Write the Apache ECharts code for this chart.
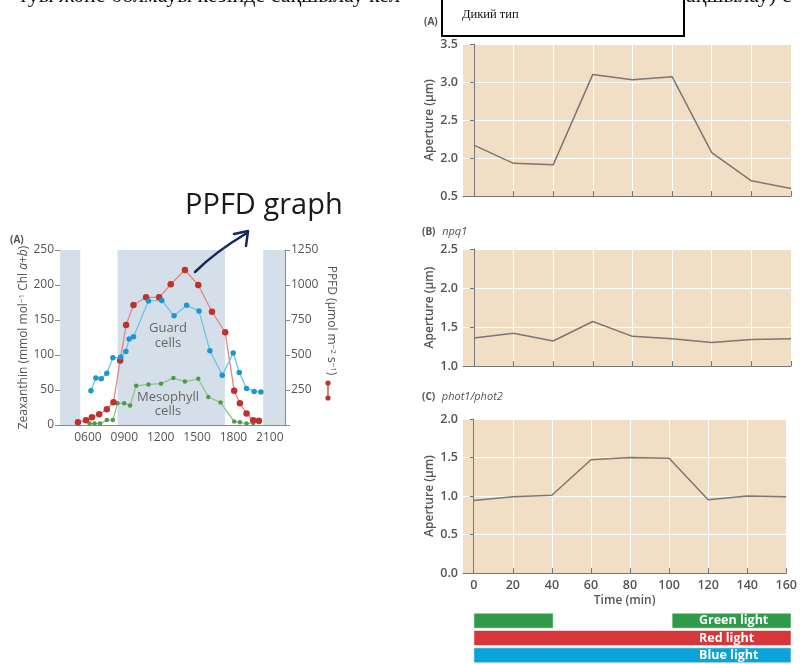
<!DOCTYPE html>
<html>
<head>
<meta charset="utf-8">
<script src="https://cdn.jsdelivr.net/npm/echarts@6/dist/echarts.min.js"></script>
<style>
html, body { margin: 0; padding: 0; background: #fff; }
#chart { width: 800px; height: 664px; }
</style>
</head>
<body>
<div id="chart"></div>
<script>
// left chart: hour of day vs zeaxanthin / PPFD
const HOUR_TICKS = [6, 9, 12, 15, 18, 21];
const RED_T = [5.18, 5.84, 6.33, 6.93, 7.56, 8.11, 8.66, 9.15, 9.76, 10.8, 11.87, 12.83, 14.0, 15.1, 16.23, 17.32, 18.06, 18.53, 19.08, 19.63, 20.1];
const RED_PPFD = [20, 34, 55, 76, 112, 162, 460, 714, 857, 912, 912, 1005, 1107, 1000, 809, 662, 245, 155, 83, 34, 30];
const BLUE_T = [6.25, 6.66, 7.1, 7.56, 8.06, 8.71, 9.13, 9.4, 9.76, 10.99, 12.09, 13.1, 14.14, 15.16, 16.06, 17.08, 17.98, 18.48, 19.08, 19.71, 20.26];
const BLUE_Z = [49, 67, 66, 74, 96, 97, 105, 123, 126, 177, 178, 156, 171, 163, 106, 71, 103, 75, 52, 48, 47];
const GREEN_T = [6.14, 6.55, 7.0, 7.56, 8.06, 8.44, 8.99, 9.48, 9.98, 10.99, 12.03, 13.05, 14.0, 15.1, 15.93, 16.94, 18.06, 18.53, 19.08, 19.63, 20.1];
const GREEN_Z = [2, 2, 2, 7, 7, 31, 31, 28, 56, 58, 59, 67, 62, 66, 40, 32, 5, 4, 2, 3, 4];
const SHADE = [[3.7, 5.37], [8.44, 17.3], [20.45, 22.25]];

// right panels: aperture vs time
const TIME = [0, 20, 40, 60, 80, 100, 120, 140, 160];
const WILD = [2.17, 1.93, 1.91, 3.10, 3.03, 3.07, 2.07, 1.70, 1.60];
const NPQ1 = [1.36, 1.42, 1.32, 1.57, 1.38, 1.35, 1.30, 1.34, 1.35];
const PHOT = [0.94, 0.99, 1.01, 1.47, 1.50, 1.49, 0.95, 1.00, 0.99];

// light treatment bars: [row, start, end]
const LIGHT_ROWS = ['Green light', 'Red light', 'Blue light'];
const LIGHT_SPANS = [[0, 0, 40], [0, 100, 160], [1, 0, 160], [2, 0, 160]];
const LIGHT_COLORS = ['#2f9a48', '#d6373b', '#0ba3d8'];

const GRAY = '#555';
const TAN = '#f1dfc5';
const pairs = (xs, ys) => xs.map((x, i) => [x, ys[i]]);

const chart = echarts.init(document.getElementById('chart'), null, { renderer: 'canvas' });

function panelX(grid, showLabels) {
  return {
    type: 'value', gridIndex: grid, min: -5.5, max: 160,
    axisLine: { lineStyle: { color: '#777', width: 1 } },
    axisTick: { inside: true, length: 5, customValues: TIME, lineStyle: { color: '#777' } },
    axisLabel: { show: showLabels, customValues: TIME, color: GRAY, fontSize: 12.5, fontWeight: 600, margin: 6 },
    splitLine: { show: true, lineStyle: { color: '#fff', width: 1 } },
    name: showLabels ? 'Time (min)' : '', nameLocation: 'middle', nameGap: 22,
    nameTextStyle: { color: GRAY, fontSize: 12, fontWeight: 600 },
  };
}
function panelY(grid, min, max, fmt) {
  return {
    type: 'value', gridIndex: grid, min, max, interval: 0.5,
    axisLine: { show: true, lineStyle: { color: '#777' } },
    axisTick: { show: true, length: 4, lineStyle: { color: '#777' } },
    axisLabel: { color: GRAY, fontSize: 12.5, fontWeight: 600, margin: 5, formatter: fmt || (v => v.toFixed(1)) },
    splitLine: { lineStyle: { color: '#fff', width: 1 } },
    name: 'Aperture (μm)', nameLocation: 'middle', nameGap: 27,
    nameTextStyle: { color: GRAY, fontSize: 12, fontWeight: 600 },
  };
}
function panelLine(idx, values) {
  return {
    type: 'line', xAxisIndex: idx, yAxisIndex: idx + 1,
    data: pairs(TIME, values), symbol: 'none',
    lineStyle: { color: '#7d7673', width: 1.5 },
  };
}

const option = {
  animation: false,
  textStyle: { fontFamily: 'Open Sans' },
  grid: [
    { left: 60, top: 250, width: 225, height: 175 },
    { left: 463, top: 44, width: 328, height: 152, show: true, backgroundColor: TAN, borderWidth: 0 },
    { left: 463, top: 249, width: 328, height: 117, show: true, backgroundColor: TAN, borderWidth: 0 },
    { left: 463, top: 419, width: 328, height: 154, show: true, backgroundColor: TAN, borderWidth: 0 },
    { left: 463, top: 612, width: 328, height: 60 },
  ],
  xAxis: [
    {
      type: 'value', gridIndex: 0, min: 3.7, max: 22.25, z: 1,
      axisLine: { lineStyle: { color: '#888' } },
      axisTick: { show: false, customValues: HOUR_TICKS },
      axisLabel: { customValues: HOUR_TICKS, color: GRAY, fontSize: 12, margin: 7,
        formatter: v => String(v).padStart(2, '0') + '00' },
      splitLine: { show: true, lineStyle: { color: 'rgba(255,255,255,0.7)', width: 1.5 } },
    },
    panelX(1, false), panelX(2, false), panelX(3, true),
    { type: 'value', gridIndex: 4, min: -5.5, max: 160, show: false },
  ],
  yAxis: [
    {
      type: 'value', gridIndex: 0, min: 0, max: 250, interval: 50,
      axisLine: { show: true, lineStyle: { color: '#888' } },
      axisTick: { show: true, length: 5, lineStyle: { color: '#888' } },
      axisLabel: { color: GRAY, fontSize: 12, margin: 6 },
      splitLine: { show: false },
      name: '{n|Zeaxanthin (mmol mol}{s|−1}{n| Chl }{i|a+b}{n|)}',
      nameLocation: 'middle', nameGap: 30,
      nameTextStyle: { rich: {
        n: { color: GRAY, fontSize: 12 },
        s: { color: GRAY, fontSize: 8, verticalAlign: 'top' },
        i: { color: GRAY, fontSize: 12, fontStyle: 'italic' },
      } },
    },
    {
      type: 'value', gridIndex: 0, min: 0, max: 1250, interval: 250, position: 'right',
      axisLine: { show: true, lineStyle: { color: '#888' } },
      axisTick: { show: true, length: 5, lineStyle: { color: '#888' } },
      axisLabel: { color: GRAY, fontSize: 12, margin: 6, formatter: v => v === 0 ? '' : v },
      splitLine: { show: false },
      name: '{n|PPFD (μmol m}{s|−2}{n| s}{s|−1}{n|)}',
      nameLocation: 'middle', nameGap: 40, nameRotate: -90,
      nameTextStyle: { padding: [0, 34, 0, 0], rich: {
        n: { color: GRAY, fontSize: 12 },
        s: { color: GRAY, fontSize: 8, verticalAlign: 'top' },
      } },
    },
    panelY(1, 1.5, 3.5, v => v === 1.5 ? '0.5' : v.toFixed(1)),
    panelY(2, 1.0, 2.5),
    panelY(3, 0, 2.0),
    { type: 'category', gridIndex: 4, data: LIGHT_ROWS, inverse: true, show: false },
  ],
  series: [
    {
      type: 'line', xAxisIndex: 0, yAxisIndex: 0, data: [], z: 0, silent: true,
      markArea: {
        silent: true,
        itemStyle: { color: '#d5dfea' },
        data: SHADE.map(([a, b]) => [{ xAxis: a }, { xAxis: b }]),
      },
    },
    {
      type: 'line', xAxisIndex: 0, yAxisIndex: 0, data: pairs(GREEN_T, GREEN_Z),
      symbol: 'circle', symbolSize: 4.5,
      itemStyle: { color: '#4e9a4b' }, lineStyle: { color: '#93c28b', width: 1.3 },
    },
    {
      type: 'line', xAxisIndex: 0, yAxisIndex: 1, data: pairs(RED_T, RED_PPFD),
      symbol: 'circle', symbolSize: 6.5,
      itemStyle: { color: '#c0312d' }, lineStyle: { color: '#dc8a84', width: 1.3 },
    },
    {
      type: 'line', xAxisIndex: 0, yAxisIndex: 0, data: pairs(BLUE_T, BLUE_Z),
      symbol: 'circle', symbolSize: 5.5,
      itemStyle: { color: '#1b98cf' }, lineStyle: { color: '#6cc3e3', width: 1.3 },
    },
    panelLine(1, WILD),
    panelLine(2, NPQ1),
    panelLine(3, PHOT),
    {
      type: 'custom', xAxisIndex: 4, yAxisIndex: 5, data: LIGHT_SPANS,
      encode: { x: [1, 2], y: 0 },
      renderItem(params, api) {
        const row = api.value(0);
        const end = api.value(2);
        const p0 = api.coord([api.value(1), row]);
        const p1 = api.coord([end, row]);
        const h = 15;
        const children = [{
          type: 'rect',
          shape: { x: p0[0], y: p0[1] - h / 2, width: p1[0] - p0[0], height: h },
          style: { fill: LIGHT_COLORS[row], stroke: 'rgba(255,255,255,0.55)', lineWidth: 1 },
        }];
        if (end === 160) {
          children.push({
            type: 'text',
            style: { text: LIGHT_ROWS[row], x: p1[0] - 92, y: p0[1], verticalAlign: 'middle',
              fill: '#fff', font: 'bold 12.5px "Open Sans"' },
          });
        }
        return { type: 'group', children };
      },
    },
  ],
  graphic: [
    // document text line cut at the top
    { type: 'text', x: 400, y: -4, z: 10, style: { text: 'туы және болмауы кезінде сақшылау кел', align: 'right',
      verticalAlign: 'middle', font: '22px "Liberation Serif"', fill: '#111' } },
    { type: 'text', x: 676, y: -4, z: 10, style: { text: 'сақшылау) с', align: 'left',
      verticalAlign: 'middle', font: '22px "Liberation Serif"', fill: '#111' } },
    { type: 'rect', z: 11, shape: { x: 442, y: -4, width: 242, height: 40 },
      style: { fill: '#fff', stroke: '#000', lineWidth: 2 } },
    { type: 'text', x: 462, y: 15, z: 12, style: { text: 'Дикий тип', verticalAlign: 'middle',
      font: '12.5px "Liberation Serif"', fill: '#111' } },
    // panel labels
    { type: 'text', x: 424, y: 22, style: { text: '(A)', verticalAlign: 'middle', font: 'bold 10px "Open Sans"', fill: GRAY } },
    { type: 'text', x: 422, y: 232, style: { text: '{b|(B)}  {i|npq1}', verticalAlign: 'middle',
      rich: { b: { fontSize: 10, fontWeight: 'bold', fill: GRAY, fontFamily: 'Open Sans' },
              i: { fontSize: 11, fontStyle: 'italic', fill: GRAY, fontFamily: 'Open Sans' } } } },
    { type: 'text', x: 422, y: 397, style: { text: '{b|(C)}  {i|phot1/phot2}', verticalAlign: 'middle',
      rich: { b: { fontSize: 10, fontWeight: 'bold', fill: GRAY, fontFamily: 'Open Sans' },
              i: { fontSize: 11, fontStyle: 'italic', fill: GRAY, fontFamily: 'Open Sans' } } } },
    { type: 'text', x: 10, y: 240, style: { text: '(A)', verticalAlign: 'middle', font: 'bold 10px "Open Sans"', fill: GRAY } },
    // series annotations
    { type: 'text', x: 168, y: 336, z: 5, style: { text: 'Guard\ncells', align: 'center', verticalAlign: 'middle',
      font: '13px "Open Sans"', fill: '#666', lineHeight: 15 } },
    { type: 'text', x: 168, y: 404, z: 5, style: { text: 'Mesophyll\ncells', align: 'center', verticalAlign: 'middle',
      font: '13px "Open Sans"', fill: '#666', lineHeight: 14 } },
    // red legend mark beside PPFD name
    { type: 'line', shape: { x1: 328, y1: 383, x2: 328, y2: 398 }, style: { stroke: '#c0312d', lineWidth: 1.2 } },
    { type: 'circle', shape: { cx: 328, cy: 383, r: 2.6 }, style: { fill: '#c0312d' } },
    { type: 'circle', shape: { cx: 328, cy: 398, r: 2.6 }, style: { fill: '#c0312d' } },
    // handwritten note
    { type: 'text', x: 185, y: 206, style: { text: 'PPFD graph', verticalAlign: 'middle',
      font: '29px "Open Sans"', fill: '#1a1a1a' } },
    { type: 'bezierCurve', z: 6, shape: { x1: 195, y1: 272, cpx1: 215, cpy1: 252, x2: 247, y2: 233 },
      style: { stroke: '#17295c', lineWidth: 2.5, fill: null, lineCap: 'round' } },
    { type: 'polyline', z: 6, shape: { points: [[234, 234], [248, 231], [246, 246]] },
      style: { stroke: '#17295c', lineWidth: 2.5, fill: null, lineCap: 'round', lineJoin: 'round' } },
  ],
};

chart.setOption(option);
</script>
</body>
</html>
